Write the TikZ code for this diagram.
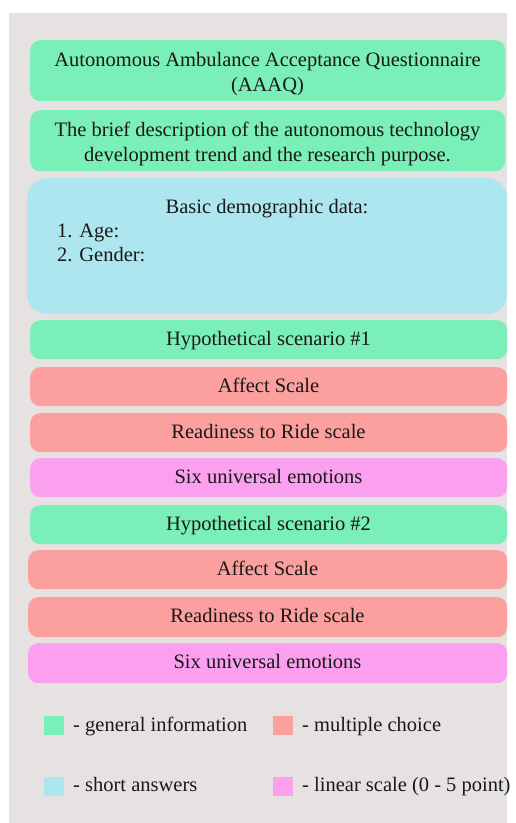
\documentclass[tikz,border=0pt]{standalone}
\usepackage{fontspec}
\setmainfont{Liberation Serif}
\definecolor{bgc}{RGB}{230,226,226}
\definecolor{gen}{RGB}{123,239,184}
\definecolor{mch}{RGB}{251,160,158}
\definecolor{sha}{RGB}{173,230,239}
\definecolor{lin}{RGB}{251,160,239}
\tikzset{
  txt/.style={font=\fontsize{20.5}{23}\selectfont, text=black!90, inner sep=0pt, anchor=base},
  ltxt/.style={txt, anchor=base west},
  bar/.style={rectangle, rounded corners=10pt, inner sep=0pt, anchor=north west},
  sq/.style={rectangle, inner sep=0pt, minimum width=20pt, minimum height=19pt, anchor=north west}
}
\begin{document}
\begin{tikzpicture}[x=1pt,y=-1pt]
\useasboundingbox (0,0) rectangle (515,823);
\fill[white] (0,0) rectangle (515,823);
\fill[bgc] (9,13) rectangle (507,823);
% boxes
\node[bar, fill=gen, minimum width=475pt, minimum height=61pt] (title) at (30,40) {};
\node[txt] (title1) at (267.5,66) {Autonomous Ambulance Acceptance Questionnaire};
\node[txt] (title2) at (267.5,91) {(AAAQ)};
\node[bar, fill=gen, minimum width=475pt, minimum height=61pt] (desc) at (30,110) {};
\node[txt] (desc1) at (267.5,136) {The brief description of the autonomous technology};
\node[txt] (desc2) at (267.5,161) {development trend and the research purpose.};
\node[bar, fill=sha, rounded corners=20pt, minimum width=480pt, minimum height=136pt] (demo) at (27,178) {};
\node[txt] (demohead) at (267,213) {Basic demographic data:};
\node[ltxt] (age) at (57,237) {1. Age:};
\node[ltxt] (gender) at (57,261.5) {2. Gender:};
\node[bar, fill=gen, minimum width=477pt, minimum height=39pt] (hypa) at (30,320) {};
\node[txt] (hypat) at (268.5,345) {Hypothetical scenario \#1};
\node[bar, fill=mch, minimum width=477pt, minimum height=39pt] (affa) at (30,367) {};
\node[txt] (affat) at (268.5,392) {Affect Scale};
\node[bar, fill=mch, minimum width=477pt, minimum height=39pt] (reada) at (30,413) {};
\node[txt] (readat) at (268.5,438) {Readiness to Ride scale};
\node[bar, fill=lin, minimum width=477pt, minimum height=39pt] (sixa) at (30,458) {};
\node[txt] (sixat) at (268.5,483) {Six universal emotions};
\node[bar, fill=gen, minimum width=477pt, minimum height=39pt] (hypb) at (30,505) {};
\node[txt] (hypbt) at (268.5,530) {Hypothetical scenario \#2};
\node[bar, fill=mch, minimum width=479pt, minimum height=39pt] (affb) at (28,550) {};
\node[txt] (affbt) at (267.5,575) {Affect Scale};
\node[bar, fill=mch, minimum width=479pt, minimum height=40pt] (readb) at (28,597) {};
\node[txt] (readbt) at (267.5,622) {Readiness to Ride scale};
\node[bar, fill=lin, minimum width=479pt, minimum height=40pt] (sixb) at (28,643) {};
\node[txt] (sixbt) at (267.5,668) {Six universal emotions};
% legend
\node[sq, fill=gen] (sqgen) at (44,716) {};
\node[ltxt] (lgen) at (73,731) {- general information};
\node[sq, fill=mch] (sqmch) at (273,716) {};
\node[ltxt] (lmch) at (302,731) {- multiple choice};
\node[sq, fill=sha] (sqsha) at (44,777) {};
\node[ltxt] (lsha) at (73,791) {- short answers};
\node[sq, fill=lin] (sqlin) at (273,777) {};
\node[ltxt] (llin) at (302,791) {- linear scale (0 - 5 point)};
\end{tikzpicture}
\end{document}
